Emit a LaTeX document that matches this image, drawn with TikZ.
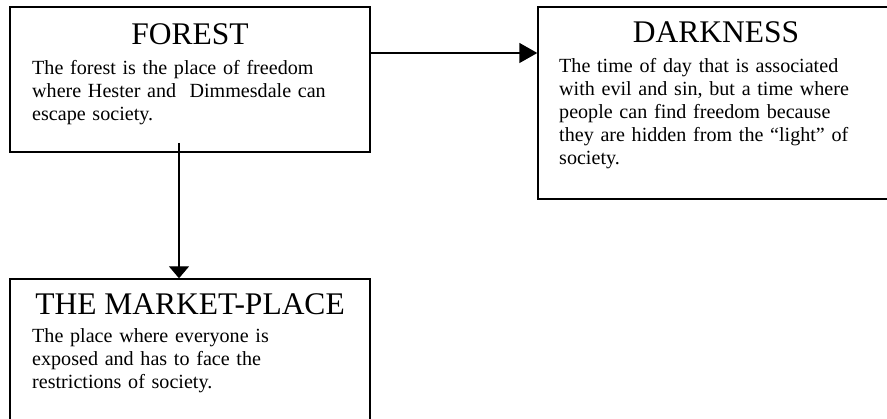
\documentclass[tikz,border=0pt]{standalone}
\usepackage{fontspec}
\setmainfont{Liberation Serif}
\usetikzlibrary{arrows.meta, positioning, calc}

\begin{document}
\begin{tikzpicture}[x=1pt, y=-1pt,
    box/.style={draw, line width=1.4pt, fill=white, inner sep=0pt},
    title/.style={font=\fontsize{31.5}{36}\selectfont, anchor=base, inner sep=0pt},
    body/.style={font=\fontsize{20.1}{22.9}\selectfont, anchor=base west, align=left, text width=340pt, inner sep=0pt},
    link/.style={-{Triangle[length=18pt, width=20pt]}, line width=1.4pt}]
    \useasboundingbox (0,0) rectangle (887,419);
    \clip (0,0) rectangle (887,419);

    % Forest
    \node[box, minimum width=360pt, minimum height=145pt] (forest) at (190,79.5) {};
    \node[title] (forest title) at (190,45) {FOREST};
    \node[body] (forest text) at (32,75) {The forest is the place of freedom\\
        where Hester and\ \ Dimmesdale can\\
        escape society.};

    % Darkness (runs off the right edge)
    \node[box, minimum width=356pt, minimum height=192pt] (darkness) at (716,103) {};
    \node[title] (darkness title) at (716,43) {DARKNESS};
    \node[body] (darkness text) at (559,73) {The time of day that is associated\\
        with evil and sin, but a time where\\
        people can find freedom because\\
        they are hidden from the “light” of\\
        society.};

    % Market-place (runs off the bottom edge)
    \node[box, minimum width=360pt, minimum height=150pt] (market) at (190,354) {};
    \node[title] (market title) at (190,315) {THE MARKET-PLACE};
    \node[body] (market text) at (32,343) {The place where everyone is\\
        exposed and has to face the\\
        restrictions of society.};

    % Arrows
    \coordinate (level) at (0,53);
    \coordinate (drop) at (179,143);
    \draw[link] (forest.east |- level) -- (darkness.west |- level);
    \draw[link, -{Triangle[length=12pt, width=20pt]}] (drop) -- (drop |- market.north);
\end{tikzpicture}
\end{document}
